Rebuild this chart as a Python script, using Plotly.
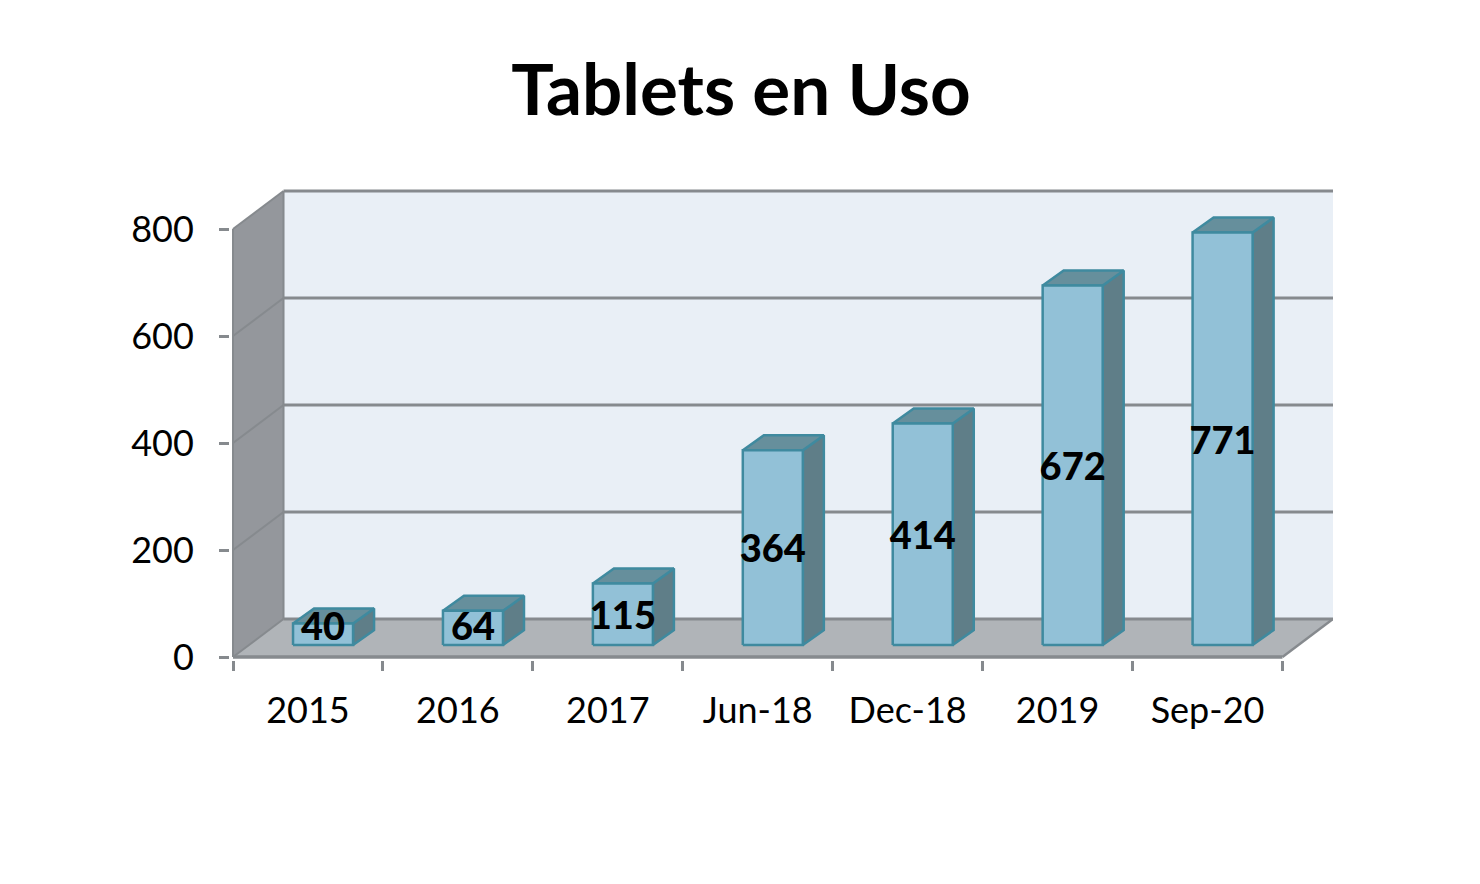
import plotly.graph_objects as go

# --- data ---
categories = ["2015", "2016", "2017", "Jun-18", "Dec-18", "2019", "Sep-20"]
values = [40, 64, 115, 364, 414, 672, 771]
y_ticks = [0, 200, 400, 600, 800]

# --- 3D look, in axis units (1 x unit = one category, y unit = tablets) ---
PX_X = 149.86
PX_Y = 0.535
WALL_DX = 50.5 / PX_X
WALL_DY = 38 / PX_Y
BAR_X0 = 60 / PX_X
BAR_W = 60 / PX_X
BAR_DX = 21 / PX_X
BAR_DY = 15 / PX_Y
BAR_BASE = 12 / PX_Y
LABEL_MIN = 50
PAD_X = 3 / PX_X
PAD_Y = 3 / PX_Y
n = len(categories)
top = max(y_ticks)

LINE = "#868a8e"
EDGE = "#3f8a9f"
FONT = "Lato, Carlito, sans-serif"


def poly(points, color, line_color=None, width=0):
    xs, ys = zip(*points)
    return go.Scatter(x=list(xs) + [xs[0]], y=list(ys) + [ys[0]], mode="lines", fill="toself",
                      fillcolor=color, line=dict(color=line_color or color, width=width),
                      hoverinfo="skip", showlegend=False, cliponaxis=False)


def seg(xs, ys, width=3, color=LINE):
    return go.Scatter(x=xs, y=ys, mode="lines", line=dict(color=color, width=width),
                      hoverinfo="skip", showlegend=False, cliponaxis=False)


fig = go.Figure()

# walls and floor
fig.add_trace(poly([(WALL_DX, WALL_DY), (n + WALL_DX, WALL_DY), (n + WALL_DX, top + WALL_DY), (WALL_DX, top + WALL_DY)], "#e9eff6"))
fig.add_trace(poly([(0, 0), (WALL_DX, WALL_DY), (WALL_DX, top + WALL_DY), (0, top)], "#94979c"))
fig.add_trace(poly([(0, 0), (n, 0), (n + WALL_DX, WALL_DY), (WALL_DX, WALL_DY)], "#b0b4b8"))

# gridlines
for t in y_ticks:
    fig.add_trace(seg([WALL_DX, n + WALL_DX], [t + WALL_DY, t + WALL_DY]))
    fig.add_trace(seg([0, WALL_DX], [t, t + WALL_DY], width=2))
fig.add_trace(seg([WALL_DX, WALL_DX], [WALL_DY, top + WALL_DY], width=2))
fig.add_trace(seg([0, 0], [0, top], width=2))
fig.add_trace(seg([0, n], [0, 0], width=3.5))
fig.add_trace(seg([n, n + WALL_DX], [0, WALL_DY], width=2.5))

# bars
for i, v in enumerate(values):
    x0 = i + BAR_X0
    x1 = x0 + BAR_W
    y0 = BAR_BASE
    y1 = BAR_BASE + v
    fig.add_trace(poly([(x1, y0), (x1 + BAR_DX, y0 + BAR_DY), (x1 + BAR_DX, y1 + BAR_DY), (x1, y1)], "#5f7e88", EDGE, 2.5))
    fig.add_trace(poly([(x0, y1), (x1, y1), (x1 + BAR_DX, y1 + BAR_DY), (x0 + BAR_DX, y1 + BAR_DY)], "#668f9c", EDGE, 2.5))
    fig.add_trace(poly([(x0, y0), (x1, y0), (x1, y1), (x0, y1)], "#92c1d7", EDGE, 2.5))

# data labels
fig.add_trace(go.Scatter(
    x=[i + BAR_X0 + BAR_W / 2 for i in range(n)],
    y=[max(BAR_BASE + v / 2 - 10, LABEL_MIN) for v in values],
    text=[str(v) for v in values],
    mode="text", textposition="middle center",
    textfont=dict(family=FONT, size=38, color="#000000", weight=900),
    hoverinfo="skip", showlegend=False, cliponaxis=False))

fig.update_layout(
    width=1480, height=884,
    margin=dict(l=222, r=155, t=180, b=232),
    paper_bgcolor="#ffffff", plot_bgcolor="#ffffff",
    showlegend=False,
    title=dict(text="<b>Tablets en Uso</b>", x=733 / 1480, xanchor="center",
               y=1 - 82 / 884, yanchor="middle",
               font=dict(family=FONT, size=71, color="#000000")),
    xaxis=dict(range=[-PAD_X, n + WALL_DX], tickmode="array",
               tickvals=[i + 0.5 for i in range(n)], ticktext=categories,
               ticks="", showgrid=False, zeroline=False, showline=False,
               tickfont=dict(family=FONT, size=36, color="#000000"),
               ticklabelstandoff=26,
               minor=dict(tickmode="array", tickvals=list(range(n + 1)), ticks="outside",
                          ticklen=10, tickwidth=3, tickcolor=LINE, showgrid=False)),
    yaxis=dict(range=[-PAD_Y, top + WALL_DY + PAD_Y], tickmode="array", tickvals=y_ticks,
               ticks="outside", ticklen=10, tickwidth=3, tickcolor=LINE,
               showgrid=False, zeroline=False, showline=False,
               tickfont=dict(family=FONT, size=36, color="#000000"),
               ticklabelstandoff=18),
)

fig.write_html("out.html")
